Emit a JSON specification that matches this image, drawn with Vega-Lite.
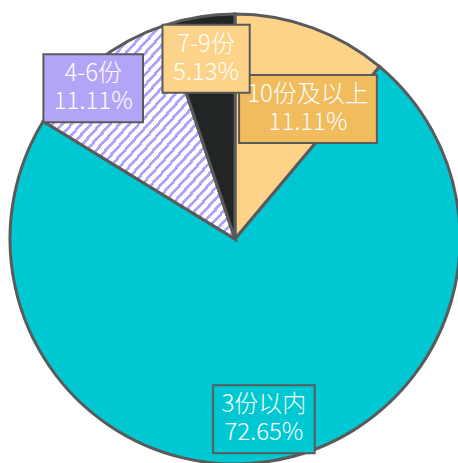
{
  "$schema": "https://vega.github.io/schema/vega-lite/v6.json",
  "width": 458,
  "height": 463,
  "autosize": {"type": "fit", "contains": "padding"},
  "padding": {"left": 12, "top": 15, "right": 0, "bottom": 0},
  "background": "#ffffff",
  "config": {"view": {"stroke": null}},
  "data": {"values": [
    {"cat": "10份及以上", "pct": 11.11},
    {"cat": "3份以内", "pct": 72.65},
    {"cat": "4-6份", "pct": 11.11},
    {"cat": "7-9份", "pct": 5.13}
  ]},
  "transform": [
    {"joinaggregate": [{"op": "sum", "field": "pct", "as": "total"}]},
    {"window": [{"op": "sum", "field": "pct", "as": "cum"}], "sort": [{"field": "cat", "order": "ascending"}], "frame": [null, 0]},
    {"calculate": "(datum.cum - datum.pct / 2) / datum.total * 2 * PI", "as": "mid"},
    {"calculate": "datum.mid + (datum.cat === '10份及以上' ? 0.168 : datum.cat === '4-6份' ? -0.09 : 0)", "as": "ang"},
    {"calculate": "datum.cat === '10份及以上' ? 0.668 : datum.cat === '4-6份' ? 0.93 : 0.815", "as": "rad"},
    {"calculate": "datum.rad * sin(datum.ang)", "as": "lx"},
    {"calculate": "datum.rad * cos(datum.ang)", "as": "ly"},
    {"calculate": "format(datum.pct, '.2f') + '%'", "as": "pctText"},
    {"calculate": "length(replace(datum.cat, regexp('[ -~]', 'g'), ''))", "as": "cjk"},
    {"calculate": "max(24 * datum.cjk + 12.5 * (length(datum.cat) - datum.cjk), 12.5 * (length(datum.pctText) - 1) + 20) + 18", "as": "bw"},
    {"calculate": "datum.lx - datum.bw / 446", "as": "bx"},
    {"calculate": "datum.lx + datum.bw / 446", "as": "bx2"},
    {"calculate": "datum.ly - 34 / 224", "as": "by"},
    {"calculate": "datum.ly + 34 / 224", "as": "by2"}
  ],
  "layer": [
    {
      "mark": {"type": "arc", "radius": 225, "stroke": "#5a5a5a", "strokeWidth": 3},
      "encoding": {
        "theta": {"field": "pct", "type": "quantitative", "stack": true},
        "color": {
          "condition": {
            "test": "datum.cat === '4-6份'",
            "value": {
              "gradient": "linear", "x1": 0, "y1": 0, "x2": 1, "y2": 1,
              "stops": [
                {"offset": 0, "color": "#b4a4f8"}, {"offset": 0.01, "color": "#b4a4f8"}, {"offset": 0.01, "color": "#ffffff"}, {"offset": 0.025, "color": "#ffffff"},
                {"offset": 0.025, "color": "#b4a4f8"}, {"offset": 0.035, "color": "#b4a4f8"}, {"offset": 0.035, "color": "#ffffff"}, {"offset": 0.05, "color": "#ffffff"},
                {"offset": 0.05, "color": "#b4a4f8"}, {"offset": 0.06, "color": "#b4a4f8"}, {"offset": 0.06, "color": "#ffffff"}, {"offset": 0.075, "color": "#ffffff"},
                {"offset": 0.075, "color": "#b4a4f8"}, {"offset": 0.085, "color": "#b4a4f8"}, {"offset": 0.085, "color": "#ffffff"}, {"offset": 0.1, "color": "#ffffff"},
                {"offset": 0.1, "color": "#b4a4f8"}, {"offset": 0.11, "color": "#b4a4f8"}, {"offset": 0.11, "color": "#ffffff"}, {"offset": 0.125, "color": "#ffffff"},
                {"offset": 0.125, "color": "#b4a4f8"}, {"offset": 0.135, "color": "#b4a4f8"}, {"offset": 0.135, "color": "#ffffff"}, {"offset": 0.15, "color": "#ffffff"},
                {"offset": 0.15, "color": "#b4a4f8"}, {"offset": 0.16, "color": "#b4a4f8"}, {"offset": 0.16, "color": "#ffffff"}, {"offset": 0.175, "color": "#ffffff"},
                {"offset": 0.175, "color": "#b4a4f8"}, {"offset": 0.185, "color": "#b4a4f8"}, {"offset": 0.185, "color": "#ffffff"}, {"offset": 0.2, "color": "#ffffff"},
                {"offset": 0.2, "color": "#b4a4f8"}, {"offset": 0.21, "color": "#b4a4f8"}, {"offset": 0.21, "color": "#ffffff"}, {"offset": 0.225, "color": "#ffffff"},
                {"offset": 0.225, "color": "#b4a4f8"}, {"offset": 0.235, "color": "#b4a4f8"}, {"offset": 0.235, "color": "#ffffff"}, {"offset": 0.25, "color": "#ffffff"},
                {"offset": 0.25, "color": "#b4a4f8"}, {"offset": 0.26, "color": "#b4a4f8"}, {"offset": 0.26, "color": "#ffffff"}, {"offset": 0.275, "color": "#ffffff"},
                {"offset": 0.275, "color": "#b4a4f8"}, {"offset": 0.285, "color": "#b4a4f8"}, {"offset": 0.285, "color": "#ffffff"}, {"offset": 0.3, "color": "#ffffff"},
                {"offset": 0.3, "color": "#b4a4f8"}, {"offset": 0.31, "color": "#b4a4f8"}, {"offset": 0.31, "color": "#ffffff"}, {"offset": 0.325, "color": "#ffffff"},
                {"offset": 0.325, "color": "#b4a4f8"}, {"offset": 0.335, "color": "#b4a4f8"}, {"offset": 0.335, "color": "#ffffff"}, {"offset": 0.35, "color": "#ffffff"},
                {"offset": 0.35, "color": "#b4a4f8"}, {"offset": 0.36, "color": "#b4a4f8"}, {"offset": 0.36, "color": "#ffffff"}, {"offset": 0.375, "color": "#ffffff"},
                {"offset": 0.375, "color": "#b4a4f8"}, {"offset": 0.385, "color": "#b4a4f8"}, {"offset": 0.385, "color": "#ffffff"}, {"offset": 0.4, "color": "#ffffff"},
                {"offset": 0.4, "color": "#b4a4f8"}, {"offset": 0.41, "color": "#b4a4f8"}, {"offset": 0.41, "color": "#ffffff"}, {"offset": 0.425, "color": "#ffffff"},
                {"offset": 0.425, "color": "#b4a4f8"}, {"offset": 0.435, "color": "#b4a4f8"}, {"offset": 0.435, "color": "#ffffff"}, {"offset": 0.45, "color": "#ffffff"},
                {"offset": 0.45, "color": "#b4a4f8"}, {"offset": 0.46, "color": "#b4a4f8"}, {"offset": 0.46, "color": "#ffffff"}, {"offset": 0.475, "color": "#ffffff"},
                {"offset": 0.475, "color": "#b4a4f8"}, {"offset": 0.485, "color": "#b4a4f8"}, {"offset": 0.485, "color": "#ffffff"}, {"offset": 0.5, "color": "#ffffff"},
                {"offset": 0.5, "color": "#b4a4f8"}, {"offset": 0.51, "color": "#b4a4f8"}, {"offset": 0.51, "color": "#ffffff"}, {"offset": 0.525, "color": "#ffffff"},
                {"offset": 0.525, "color": "#b4a4f8"}, {"offset": 0.535, "color": "#b4a4f8"}, {"offset": 0.535, "color": "#ffffff"}, {"offset": 0.55, "color": "#ffffff"},
                {"offset": 0.55, "color": "#b4a4f8"}, {"offset": 0.56, "color": "#b4a4f8"}, {"offset": 0.56, "color": "#ffffff"}, {"offset": 0.575, "color": "#ffffff"},
                {"offset": 0.575, "color": "#b4a4f8"}, {"offset": 0.585, "color": "#b4a4f8"}, {"offset": 0.585, "color": "#ffffff"}, {"offset": 0.6, "color": "#ffffff"},
                {"offset": 0.6, "color": "#b4a4f8"}, {"offset": 0.61, "color": "#b4a4f8"}, {"offset": 0.61, "color": "#ffffff"}, {"offset": 0.625, "color": "#ffffff"},
                {"offset": 0.625, "color": "#b4a4f8"}, {"offset": 0.635, "color": "#b4a4f8"}, {"offset": 0.635, "color": "#ffffff"}, {"offset": 0.65, "color": "#ffffff"},
                {"offset": 0.65, "color": "#b4a4f8"}, {"offset": 0.66, "color": "#b4a4f8"}, {"offset": 0.66, "color": "#ffffff"}, {"offset": 0.675, "color": "#ffffff"},
                {"offset": 0.675, "color": "#b4a4f8"}, {"offset": 0.685, "color": "#b4a4f8"}, {"offset": 0.685, "color": "#ffffff"}, {"offset": 0.7, "color": "#ffffff"},
                {"offset": 0.7, "color": "#b4a4f8"}, {"offset": 0.71, "color": "#b4a4f8"}, {"offset": 0.71, "color": "#ffffff"}, {"offset": 0.725, "color": "#ffffff"},
                {"offset": 0.725, "color": "#b4a4f8"}, {"offset": 0.735, "color": "#b4a4f8"}, {"offset": 0.735, "color": "#ffffff"}, {"offset": 0.75, "color": "#ffffff"},
                {"offset": 0.75, "color": "#b4a4f8"}, {"offset": 0.76, "color": "#b4a4f8"}, {"offset": 0.76, "color": "#ffffff"}, {"offset": 0.775, "color": "#ffffff"},
                {"offset": 0.775, "color": "#b4a4f8"}, {"offset": 0.785, "color": "#b4a4f8"}, {"offset": 0.785, "color": "#ffffff"}, {"offset": 0.8, "color": "#ffffff"},
                {"offset": 0.8, "color": "#b4a4f8"}, {"offset": 0.81, "color": "#b4a4f8"}, {"offset": 0.81, "color": "#ffffff"}, {"offset": 0.825, "color": "#ffffff"},
                {"offset": 0.825, "color": "#b4a4f8"}, {"offset": 0.835, "color": "#b4a4f8"}, {"offset": 0.835, "color": "#ffffff"}, {"offset": 0.85, "color": "#ffffff"},
                {"offset": 0.85, "color": "#b4a4f8"}, {"offset": 0.86, "color": "#b4a4f8"}, {"offset": 0.86, "color": "#ffffff"}, {"offset": 0.875, "color": "#ffffff"},
                {"offset": 0.875, "color": "#b4a4f8"}, {"offset": 0.885, "color": "#b4a4f8"}, {"offset": 0.885, "color": "#ffffff"}, {"offset": 0.9, "color": "#ffffff"},
                {"offset": 0.9, "color": "#b4a4f8"}, {"offset": 0.91, "color": "#b4a4f8"}, {"offset": 0.91, "color": "#ffffff"}, {"offset": 0.925, "color": "#ffffff"},
                {"offset": 0.925, "color": "#b4a4f8"}, {"offset": 0.935, "color": "#b4a4f8"}, {"offset": 0.935, "color": "#ffffff"}, {"offset": 0.95, "color": "#ffffff"},
                {"offset": 0.95, "color": "#b4a4f8"}, {"offset": 0.96, "color": "#b4a4f8"}, {"offset": 0.96, "color": "#ffffff"}, {"offset": 0.975, "color": "#ffffff"},
                {"offset": 0.975, "color": "#b4a4f8"}, {"offset": 0.985, "color": "#b4a4f8"}, {"offset": 0.985, "color": "#ffffff"}, {"offset": 1, "color": "#ffffff"}
              ]
            }
          },
          "field": "cat",
          "type": "nominal",
          "scale": {"domain": ["10份及以上", "3份以内", "4-6份", "7-9份"], "range": ["#fdd389", "#00c8d2", "#b4a4f8", "#212526"]},
          "legend": null
        }
      }
    },
    {
      "mark": {"type": "rect", "stroke": "#5a5a5a", "strokeWidth": 2},
      "encoding": {
        "x": {"field": "bx", "type": "quantitative", "scale": {"domain": [-1, 1], "nice": false, "zero": false}, "axis": null},
        "x2": {"field": "bx2"},
        "y": {"field": "by", "type": "quantitative", "scale": {"domain": [-1, 1], "nice": false, "zero": false}, "axis": null},
        "y2": {"field": "by2"},
        "fill": {
          "field": "cat",
          "type": "nominal",
          "scale": {"domain": ["10份及以上", "3份以内", "4-6份", "7-9份"], "range": ["#f0bc5e", "#00c8d2", "#b4a4f8", "#fdd389"]},
          "legend": null
        }
      }
    },
    {
      "mark": {"type": "text", "font": "Noto Sans CJK SC", "fontSize": 24, "fontWeight": 300, "fill": "#ffffff", "align": "center", "baseline": "middle", "dy": -14},
      "encoding": {
        "x": {"field": "lx", "type": "quantitative", "scale": {"domain": [-1, 1], "nice": false, "zero": false}, "axis": null},
        "y": {"field": "ly", "type": "quantitative", "scale": {"domain": [-1, 1], "nice": false, "zero": false}, "axis": null},
        "text": {"field": "cat"}
      }
    },
    {
      "mark": {"type": "text", "font": "Noto Sans CJK SC", "fontSize": 24, "fontWeight": 300, "fill": "#ffffff", "align": "center", "baseline": "middle", "dy": 14},
      "encoding": {
        "x": {"field": "lx", "type": "quantitative", "scale": {"domain": [-1, 1], "nice": false, "zero": false}, "axis": null},
        "y": {"field": "ly", "type": "quantitative", "scale": {"domain": [-1, 1], "nice": false, "zero": false}, "axis": null},
        "text": {"field": "pctText"}
      }
    }
  ]
}
